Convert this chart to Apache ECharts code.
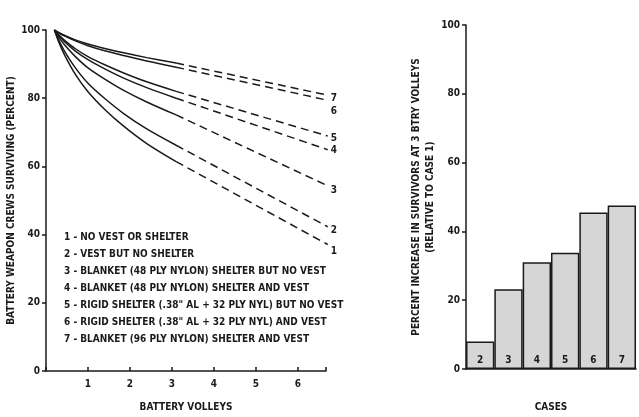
<!DOCTYPE html>
<html>
<head>
<meta charset="utf-8">
<script src="https://cdn.jsdelivr.net/npm/echarts@6/dist/echarts.min.js"></script>
<style>
html,body{margin:0;padding:0;background:#ffffff;}
#c{width:639px;height:417px;}
</style>
</head>
<body>
<div id="c"></div>
<script>
// ---- data ----
var caseNames = [
  '1 - NO VEST OR SHELTER',
  '2 - VEST BUT NO SHELTER',
  '3 - BLANKET (48 PLY NYLON) SHELTER BUT NO VEST',
  '4 - BLANKET (48 PLY NYLON) SHELTER AND VEST',
  '5 - RIGID SHELTER (.38" AL + 32 PLY NYL) BUT NO VEST',
  '6 - RIGID SHELTER (.38" AL + 32 PLY NYL) AND VEST',
  '7 - BLANKET (96 PLY NYLON) SHELTER AND VEST'
];
var caseIds = ['1','2','3','4','5','6','7'];
// computed (solid) portion
var solidX = [0.2, 0.3, 0.45, 0.7, 1.0, 1.4, 1.85, 2.4, 3.1];
var solid1 = [100, 96.6, 92.5, 87.0, 81.9, 76.7, 71.8, 66.7, 61.4];
var solid2 = [100, 97.2, 93.6, 88.9, 84.4, 79.9, 75.5, 71.0, 66.2];
var solid3 = [100, 98.0, 95.5, 92.2, 88.9, 85.6, 82.3, 78.9, 75.1];
var solid4 = [100, 98.5, 96.5, 93.8, 91.3, 88.6, 85.9, 83.1, 80.0];
var solid5 = [100, 98.6, 96.9, 94.5, 92.2, 89.8, 87.4, 84.8, 82.0];
var solid6 = [100, 99.2, 98.2, 96.8, 95.4, 93.9, 92.5, 90.9, 89.1];
var solid7 = [100, 99.3, 98.4, 97.1, 95.9, 94.6, 93.3, 91.9, 90.3];
// extrapolated (dashed) portion
var dashX = [3.1, 6.71];
var dash1 = [61.4, 37.1];
var dash2 = [66.2, 42.3];
var dash3 = [75.1, 54.3];
var dash4 = [80.0, 64.9];
var dash5 = [82.0, 68.9];
var dash6 = [89.1, 79.4];
var dash7 = [90.3, 80.9];
// percent increase at 3 battery volleys, relative to case 1
var barCases = ['2','3','4','5','6','7'];
var barValues = [8.0, 23.2, 31.0, 33.8, 45.5, 47.5];
var xTicks = [1,2,3,4,5,6];

var solids = [solid1, solid2, solid3, solid4, solid5, solid6, solid7];
var dashes = [dash1, dash2, dash3, dash4, dash5, dash6, dash7];
var labelDy = [7, 4, 5, 1, 2, 11, 3];

var FONT = "'Liberation Sans Narrow', 'DejaVu Sans Condensed', 'Roboto Condensed', 'Arial Narrow', 'Liberation Sans', sans-serif";
var INK = '#1a1a1a';

function pairs(xs, ys){ return xs.map(function(x,i){ return [x, ys[i]]; }); }

var series = [];
solids.forEach(function(ys, i){
  series.push({
    name: caseNames[i], type: 'line', xAxisIndex: 0, yAxisIndex: 0,
    data: pairs(solidX, ys), smooth: 0.3, showSymbol: false, symbol: 'none',
    lineStyle: {color: INK, width: 1.5}, itemStyle: {color: INK}, z: 3
  });
});
dashes.forEach(function(ys, i){
  series.push({
    name: 'ext' + caseIds[i], type: 'line', xAxisIndex: 0, yAxisIndex: 0,
    data: pairs(dashX, ys), showSymbol: false, symbol: 'none',
    lineStyle: {color: INK, width: 1.5, type: [8, 5]}, itemStyle: {color: INK},
    endLabel: {show: true, formatter: caseIds[i], color: INK, fontFamily: FONT,
      fontWeight: 'bold', fontSize: 10, distance: 3, offset: [0, labelDy[i]]},
    z: 3
  });
});
series.push({
  name: 'increase', type: 'bar', xAxisIndex: 1, yAxisIndex: 1,
  data: barValues, barCategoryGap: '0%',
  itemStyle: {color: '#d6d6d6', borderColor: INK, borderWidth: 1.5},
  label: {show: true, position: 'insideBottom', distance: 4, formatter: '{b}',
    color: INK, fontFamily: FONT, fontWeight: 'bold', fontSize: 10}
});

var axisText = {color: INK, fontFamily: FONT, fontWeight: 'bold', fontSize: 10};

var option = {
  animation: false,
  backgroundColor: '#ffffff',
  textStyle: {fontFamily: FONT},
  legend: {
    data: caseNames, orient: 'vertical', left: 54, top: 227,
    icon: 'none', itemWidth: 0, itemHeight: 10, itemGap: 7, selectedMode: false,
    textStyle: {color: INK, fontFamily: FONT, fontWeight: 'bold', fontSize: 10}
  },
  grid: [
    {left: 46, top: 30, width: 280, height: 350},
    {left: 466, top: 25, width: 170, height: 358}
  ],
  xAxis: [
    {gridIndex: 0, type: 'value', min: 0, max: 6.67, interval: 1,
     name: 'BATTERY VOLLEYS', nameLocation: 'middle', nameGap: 31,
     nameTextStyle: axisText,
     axisLine: {show: true, lineStyle: {color: INK, width: 1.5}},
     axisTick: {show: true, inside: true, length: 4, lineStyle: {color: INK, width: 1.5}},
     axisLabel: Object.assign({margin: 8, formatter: function(v){ return xTicks.indexOf(v) >= 0 ? String(v) : ''; }}, axisText),
     splitLine: {show: false}},
    {gridIndex: 1, type: 'category', data: barCases,
     name: 'CASES', nameLocation: 'middle', nameGap: 33, nameTextStyle: axisText,
     axisLine: {show: true, lineStyle: {color: INK, width: 1.5}},
     axisTick: {show: false}, axisLabel: {show: false}}
  ],
  yAxis: [
    {gridIndex: 0, type: 'value', min: 0, max: 100, interval: 20,
     name: 'BATTERY WEAPON CREWS SURVIVING (PERCENT)', nameLocation: 'middle', nameGap: 30,
     nameTextStyle: axisText,
     axisLine: {show: true, lineStyle: {color: INK, width: 1.5}},
     axisTick: {show: true, length: 4, lineStyle: {color: INK, width: 1.5}},
     axisLabel: Object.assign({margin: 6}, axisText),
     splitLine: {show: false}},
    {gridIndex: 1, type: 'value', min: 0, max: 100, interval: 20,
     name: 'PERCENT INCREASE IN SURVIVORS AT 3 BTRY VOLLEYS\n(RELATIVE TO CASE 1)',
     nameLocation: 'middle', nameGap: 26,
     nameTextStyle: Object.assign({lineHeight: 14}, axisText),
     axisLine: {show: true, lineStyle: {color: INK, width: 1.5}},
     axisTick: {show: true, length: 4, lineStyle: {color: INK, width: 1.5}},
     axisLabel: Object.assign({margin: 6}, axisText),
     splitLine: {show: false}}
  ],
  series: series
};

var chart = echarts.init(document.getElementById('c'), null, {renderer: 'canvas'});
chart.setOption(option);
</script>
</body>
</html>
